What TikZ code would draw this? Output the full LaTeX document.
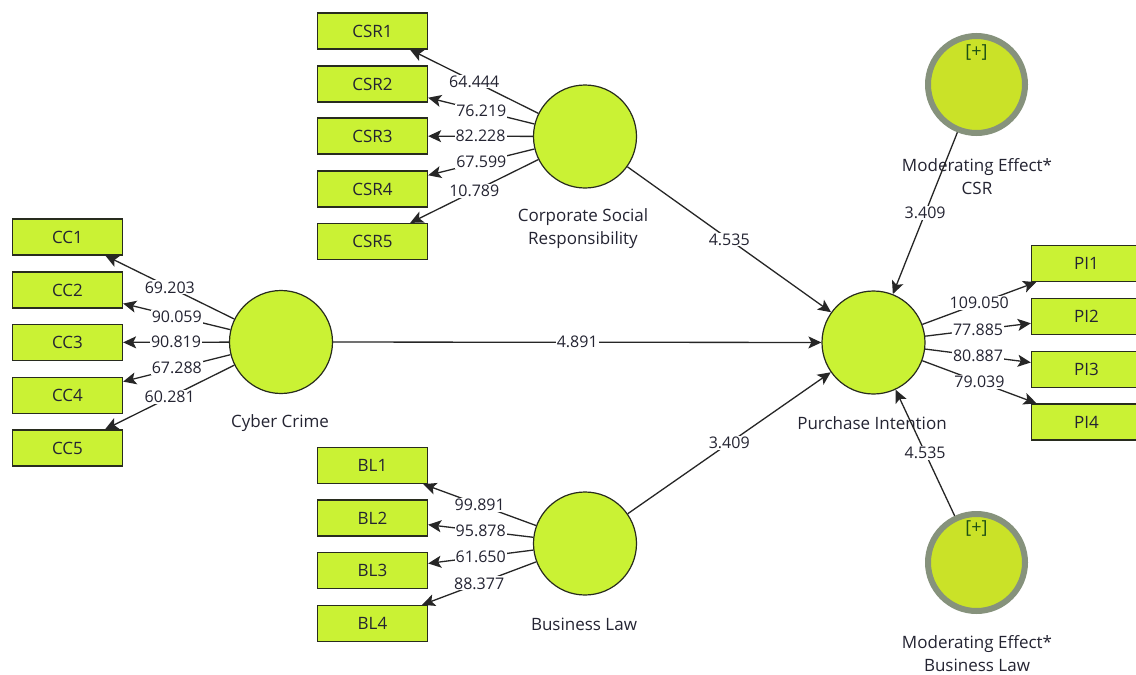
\documentclass[tikz,border=0pt]{standalone}
\usepackage{fontspec}
\setmainfont{Open Sans}
\usetikzlibrary{arrows.meta}
\definecolor{limefill}{RGB}{202,242,52}
\definecolor{modfill}{RGB}{202,226,40}
\definecolor{modring}{RGB}{134,146,124}
\definecolor{boxline}{RGB}{40,44,30}
\definecolor{txt}{RGB}{36,36,50}
\definecolor{plusgreen}{RGB}{30,80,20}
\tikzset{
  ind/.style={draw=boxline, fill=limefill, line width=1.3pt, minimum width=110pt, minimum height=36pt, inner sep=0pt, text=txt, font=\fontsize{17}{20}\selectfont},
  lat/.style={circle, draw=boxline, fill=limefill, line width=1.2pt, minimum size=103pt, inner sep=0pt},
  modc/.style={circle, draw=modring, fill=modfill, line width=6pt, minimum size=97pt, inner sep=0pt},
  arr/.style={draw=black!85, line width=1.3pt, -{Stealth[length=13pt,width=12pt,inset=3pt]}},
  lbl/.style={fill=white, inner sep=1pt, text=txt, font=\fontsize{16}{19}\selectfont},
  vname/.style={text=txt, font=\fontsize{17}{23}\selectfont, align=center, inner sep=0pt},
  plus/.style={text=plusgreen, font=\fontsize{18}{20}\selectfont, inner sep=0pt},
}
\begin{document}
\begin{tikzpicture}[x=1pt,y=-1pt]
\path[use as bounding box, clip] (0,0) rectangle (1136,675);
\fill[white] (0,0) rectangle (1136,675);
% latent variables
\node[lat] (CSR) at (585,136.5) {};
\node[lat] (CC) at (281,342) {};
\node[lat] (BL) at (585,543.5) {};
\node[lat] (PI) at (873.5,342.5) {};
\node[modc] (MC) at (976.5,84.5) {};
\node[modc] (MB) at (976.5,562.5) {};
\node[plus] (MCplus) at (976.5,52) {[+]};
\node[plus] (MBplus) at (976.5,528) {[+]};
% names
\node[vname] (CSRn) at (583,228.5) {Corporate Social\\Responsibility};
\node[vname] (CCn) at (280,423) {Cyber Crime};
\node[vname] (BLn) at (584,624) {Business Law};
\node[vname] (PIn) at (872,423) {Purchase Intention};
\node[vname] (MCn) at (977,176.5) {Moderating Effect*\\CSR};
\node[vname] (MBn) at (977,654) {Moderating Effect*\\Business Law};
% indicators
\node[ind] (CSR1) at (372.5,31) {CSR1};
\node[ind] (CSR2) at (372.5,84) {CSR2};
\node[ind] (CSR3) at (372.5,136) {CSR3};
\node[ind] (CSR4) at (372.5,189) {CSR4};
\node[ind] (CSR5) at (372.5,241.5) {CSR5};
\node[ind] (CC1) at (67.5,237) {CC1};
\node[ind] (CC2) at (67.5,290) {CC2};
\node[ind] (CC3) at (67.5,342.5) {CC3};
\node[ind] (CC4) at (67.5,395.5) {CC4};
\node[ind] (CC5) at (67.5,448) {CC5};
\node[ind] (BL1) at (372.5,465.5) {BL1};
\node[ind] (BL2) at (372.5,518) {BL2};
\node[ind] (BL3) at (372.5,570.5) {BL3};
\node[ind] (BL4) at (372.5,623.5) {BL4};
\node[ind] (PI1) at (1086.5,263.5) {PI1};
\node[ind] (PI2) at (1086.5,316.5) {PI2};
\node[ind] (PI3) at (1086.5,369.5) {PI3};
\node[ind] (PI4) at (1086.5,422) {PI4};
% loadings
\draw[arr] (CSR) -- node[lbl] (l1) {64.444} (CSR1);
\draw[arr] (CSR) -- node[lbl] (l2) {76.219} (CSR2);
\draw[arr] (CSR) -- node[lbl] (l3) {82.228} (CSR3);
\draw[arr] (CSR) -- node[lbl] (l4) {67.599} (CSR4);
\draw[arr] (CSR) -- node[lbl] (l5) {10.789} (CSR5);
\draw[arr] (CC) -- node[lbl] (l6) {69.203} (CC1);
\draw[arr] (CC) -- node[lbl] (l7) {90.059} (CC2);
\draw[arr] (CC) -- node[lbl] (l8) {90.819} (CC3);
\draw[arr] (CC) -- node[lbl] (l9) {67.288} (CC4);
\draw[arr] (CC) -- node[lbl] (l10) {60.281} (CC5);
\draw[arr] (BL) -- node[lbl] (l11) {99.891} (BL1);
\draw[arr] (BL) -- node[lbl] (l12) {95.878} (BL2);
\draw[arr] (BL) -- node[lbl] (l13) {61.650} (BL3);
\draw[arr] (BL) -- node[lbl] (l14) {88.377} (BL4);
\draw[arr] (PI) -- node[lbl] (l15) {109.050} (PI1);
\draw[arr] (PI) -- node[lbl] (l16) {77.885} (PI2);
\draw[arr] (PI) -- node[lbl] (l17) {80.887} (PI3);
\draw[arr] (PI) -- node[lbl] (l18) {79.039} (PI4);
% structural paths
\draw[arr] (CSR) -- node[lbl] (p1) {4.535} (PI);
\draw[arr] (CC) -- node[lbl] (p2) {4.891} (PI);
\draw[arr] (BL) -- node[lbl] (p3) {3.409} (PI);
\draw[arr] (MC) -- node[lbl] (p4) {3.409} (PI);
\draw[arr] (MB) -- node[lbl] (p5) {4.535} (PI);
\end{tikzpicture}
\end{document}
